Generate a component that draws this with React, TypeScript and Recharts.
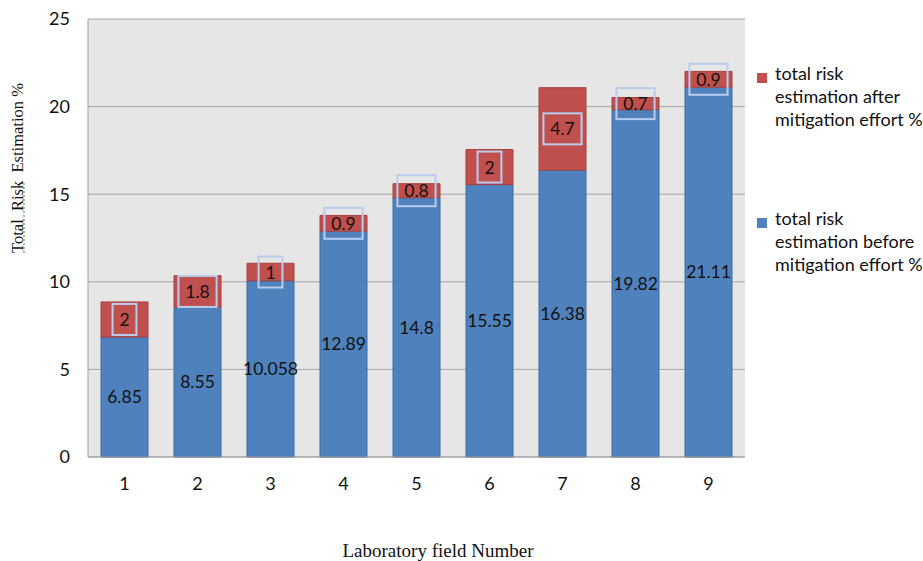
import React from "react";
import { BarChart, Bar, XAxis, YAxis, CartesianGrid, LabelList } from "recharts";

const fields = ["1", "2", "3", "4", "5", "6", "7", "8", "9"];
const beforeMitigation = [6.85, 8.55, 10.058, 12.89, 14.8, 15.55, 16.38, 19.82, 21.11];
const afterMitigation = [2, 1.8, 1, 0.9, 0.8, 2, 4.7, 0.7, 0.9];
const yTicks = [0, 5, 10, 15, 20, 25];

const data = fields.map((f, i) => ({
  field: f,
  before: beforeMitigation[i],
  after: afterMitigation[i],
}));

const BLUE = "#4f81bd";
const RED = "#c0504d";
const FONT = "Lato, 'Open Sans', sans-serif";
const SERIF = "'Liberation Serif', 'Times New Roman', serif";

const textWidth = (s: string, size: number) =>
  s.split("").reduce((w, c) => w + (c === "." ? 0.26 : 0.58) * size, 0);

const BoxedLabel = (props: any) => {
  const { x, y, width, height, value } = props;
  const cx = Number(x) + Number(width) / 2;
  const cy = Number(y) + Number(height) / 2;
  const label = String(value);
  const w = textWidth(label, 17) + 14;
  const h = 31;
  return (
    <g>
      <rect
        x={cx - w / 2}
        y={cy - h / 2}
        width={w}
        height={h}
        fill="none"
        stroke="#b8cdee"
        strokeWidth={2}
      />
      <text
        x={cx}
        y={cy}
        textAnchor="middle"
        dominantBaseline="central"
        fontSize={17.5}
        fontFamily={FONT}
        fill="#111"
      >
        {label}
      </text>
    </g>
  );
};

const LegendItem = ({ color, lines, top }: { color: string; lines: string[]; top: number }) => (
  <div style={{ position: "absolute", left: 757, top, fontFamily: FONT, fontSize: 18, color: "#111" }}>
    <div style={{ position: "absolute", left: 0, top: 1, width: 10, height: 10, background: color }} />
    <div style={{ position: "absolute", left: 18, top: -10, lineHeight: "23px", whiteSpace: "nowrap" }}>
      {lines.map((l) => (
        <div key={l}>{l}</div>
      ))}
    </div>
  </div>
);

export default function App() {
  return (
    <div style={{ position: "absolute", left: 0, top: 0, width: 923, height: 561, background: "#fff" }}>
      <BarChart
        width={923}
        height={561}
        data={data}
        margin={{ top: 19, right: 178, bottom: 0, left: 0 }}
        barSize={47}
      >
        <CartesianGrid vertical={false} stroke="#a6a6a6" fill="#e6e6e6" />
        <XAxis
          dataKey="field"
          height={104}
          tickLine={false}
          tickMargin={14}
          stroke="#a0a0a0"
          tick={{ fill: "#111", fontSize: 18, fontFamily: FONT }}
        />
        <YAxis
          width={88}
          domain={[0, 25]}
          ticks={yTicks}
          tickLine={false}
          tickMargin={12}
          stroke="#a0a0a0"
          tick={{ fill: "#111", fontSize: 18, fontFamily: FONT }}
        />
        <Bar dataKey="before" stackId="a" fill={BLUE} stroke="#3d6ca3" strokeWidth={1} isAnimationActive={false}>
          <LabelList
            dataKey="before"
            position="center"
            fill="#111"
            fontSize={17.5}
            fontFamily={FONT}
          />
        </Bar>
        <Bar dataKey="after" stackId="a" fill={RED} stroke="#a8403d" strokeWidth={1} isAnimationActive={false}>
          <LabelList dataKey="after" content={BoxedLabel} />
        </Bar>
      </BarChart>

      <LegendItem color={RED} lines={["total risk", "estimation after", "mitigation effort %"]} top={72} />
      <LegendItem color={BLUE} lines={["total risk", "estimation before", "mitigation effort %"]} top={217} />

      <div
        style={{
          position: "absolute",
          left: 18,
          top: 168,
          transform: "translate(-50%, -50%) rotate(-90deg)",
          fontFamily: SERIF,
          fontSize: 16.5,
          whiteSpace: "pre",
          color: "#111",
        }}
      >
        <span style={{ textDecoration: "underline dotted #7bc47b" }}>Total  Risk</span>
        {"  Estimation %"}
      </div>

      <div
        style={{
          position: "absolute",
          left: 438,
          top: 551,
          transform: "translate(-50%, -50%)",
          fontFamily: SERIF,
          fontSize: 19,
          whiteSpace: "nowrap",
          color: "#111",
        }}
      >
        Laboratory field Number
      </div>
    </div>
  );
}
